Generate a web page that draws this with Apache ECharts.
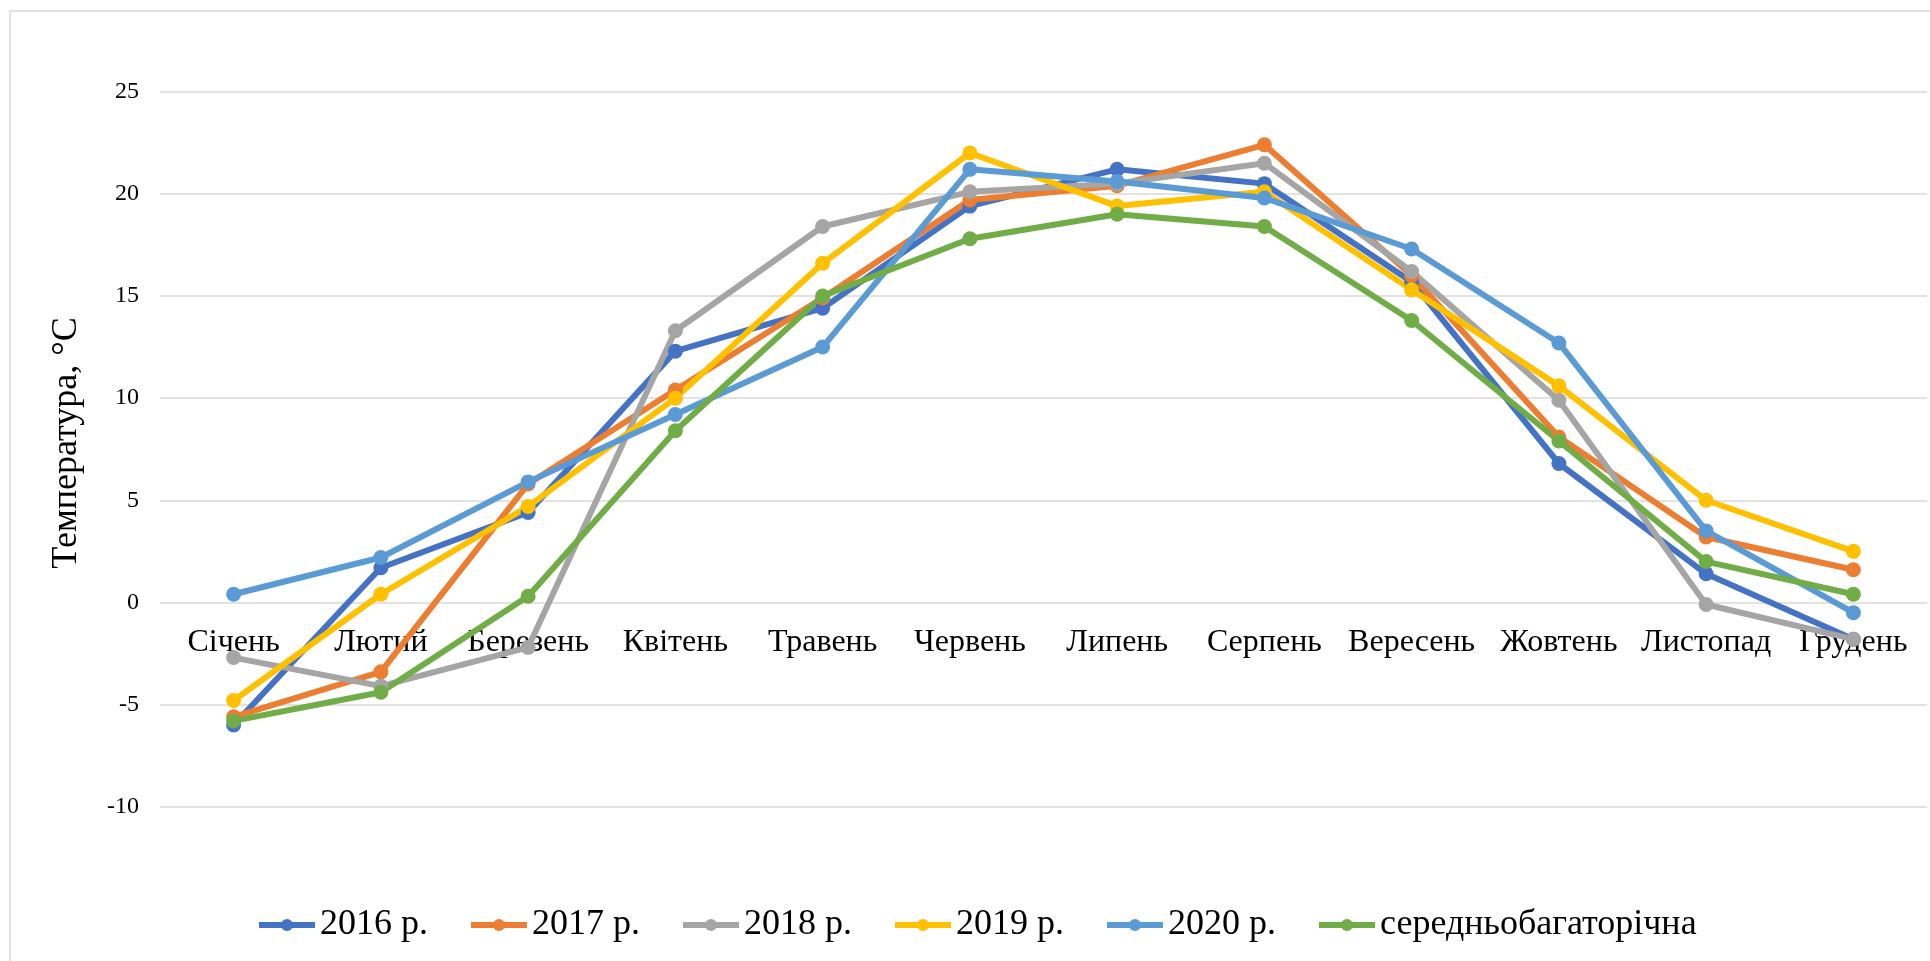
<!DOCTYPE html>
<html>
<head>
<meta charset="utf-8">
<script src="https://cdn.jsdelivr.net/npm/echarts@6/dist/echarts.min.js"></script>
<style>
  html, body { margin: 0; padding: 0; background: #fff; }
  #chart { width: 1930px; height: 961px; }
</style>
</head>
<body>
<div id="chart"></div>
<script>
  // місяці
  const months = ['Січень', 'Лютий', 'Березень', 'Квітень', 'Травень', 'Червень',
    'Липень', 'Серпень', 'Вересень', 'Жовтень', 'Листопад', 'Грудень']

  // середньомісячна температура, °C
  const t2016 = [-6.0, 1.7, 4.4, 12.3, 14.4, 19.4, 21.2, 20.5, 15.7, 6.8, 1.4, -1.8]
  const t2017 = [-5.6, -3.4, 5.8, 10.4, 14.9, 19.7, 20.4, 22.4, 16.0, 8.1, 3.2, 1.6]
  const t2018 = [-2.7, -4.1, -2.2, 13.3, 18.4, 20.1, 20.5, 21.5, 16.2, 9.9, -0.1, -1.8]
  const t2019 = [-4.8, 0.4, 4.7, 10.0, 16.6, 22.0, 19.4, 20.1, 15.3, 10.6, 5.0, 2.5]
  const t2020 = [0.4, 2.2, 5.9, 9.2, 12.5, 21.2, 20.6, 19.8, 17.3, 12.7, 3.5, -0.5]
  const tAvg = [-5.8, -4.4, 0.3, 8.4, 15.0, 17.8, 19.0, 18.4, 13.8, 7.9, 2.0, 0.4]

  const seriesNames = ['2016 р.', '2017 р.', '2018 р.', '2019 р.', '2020 р.', 'середньобагаторічна']
  const seriesData = [t2016, t2017, t2018, t2019, t2020, tAvg]
  const colors = ['#4472C4', '#ED7D31', '#A5A5A5', '#FFC000', '#5B9BD5', '#70AD47']

  const yTicks = { min: -10, max: 25, step: 5 }

  const font = '"Liberation Serif", "Times New Roman", serif'

  const chart = echarts.init(document.getElementById('chart'))

  const option = {
    animation: false,
    backgroundColor: '#fff',
    color: colors,
    grid: { left: 160, right: 3, top: 91.7, bottom: 154.3 },
    legend: {
      left: 256,
      top: 907,
      padding: 0,
      itemWidth: 56,
      itemHeight: 15,
      itemGap: 40,
      lineStyle: { width: 6 },
      textStyle: { fontFamily: font, fontSize: 36, color: '#000' },
      data: seriesNames
    },
    xAxis: {
      type: 'category',
      data: months,
      boundaryGap: true,
      // підписи місяців стоять одразу під нульовою лінією
      offset: -204,
      axisLine: { show: false, onZero: false },
      axisTick: { show: false },
      axisLabel: { fontFamily: font, fontSize: 32, color: '#000', margin: 24, interval: 0 }
    },
    yAxis: {
      type: 'value',
      min: yTicks.min,
      max: yTicks.max,
      interval: yTicks.step,
      axisLine: { show: false },
      axisTick: { show: false },
      axisLabel: { fontFamily: font, fontSize: 24, color: '#000', margin: 21 },
      splitLine: { lineStyle: { color: '#D9D9D9', width: 1.5 } }
    },
    graphic: [
      {
        type: 'rect',
        shape: { x: 10, y: 11, width: 1940, height: 1000 },
        style: { fill: 'none', stroke: '#D9D9D9', lineWidth: 1.5 },
        silent: true
      },
      {
        type: 'text',
        x: 67,
        y: 443,
        rotation: Math.PI / 2,
        style: {
          text: 'Температура, °C',
          font: '36px ' + font,
          fill: '#000',
          textAlign: 'center',
          textVerticalAlign: 'middle'
        }
      }
    ],
    series: seriesNames.map((name, i) => ({
      name: name,
      type: 'line',
      data: seriesData[i],
      symbol: 'circle',
      symbolSize: 15,
      lineStyle: { width: 6, color: colors[i] },
      itemStyle: { color: colors[i] },
      emphasis: { disabled: true }
    }))
  }

  chart.setOption(option)
</script>
</body>
</html>
